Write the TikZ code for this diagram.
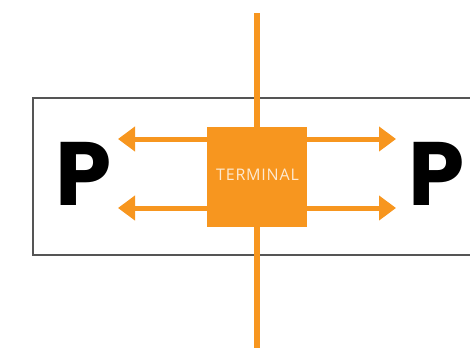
\documentclass[tikz,border=0pt]{standalone}
\usepackage{fontspec}
\setmainfont{Open Sans}
\newfontfamily\pfont{Poppins}
\usetikzlibrary{arrows.meta}
\definecolor{orng}{HTML}{F7961F}
\definecolor{framegray}{HTML}{555555}
\tikzset{
  frame/.style={draw=framegray, line width=1.8pt},
  vline/.style={draw=orng, line width=5.5pt},
  termbox/.style={fill=orng, minimum width=100pt, minimum height=100pt, inner sep=0pt, text=white!80!orng, font=\fontsize{16}{18}\selectfont\addfontfeature{LetterSpace=5}},
  arr/.style={draw=orng, line width=5pt, -{Triangle[length=17pt, width=24pt]}},
  bigp/.style={font=\pfont\bfseries\fontsize{90}{90}\selectfont, inner sep=0pt, anchor=base},
}
\begin{document}
\begin{tikzpicture}[x=1pt,y=-1pt]
\useasboundingbox (0,0) rectangle (470,351);
\clip (0,0) rectangle (470,351);
\draw[frame] (33,98) rectangle (485,255);
\coordinate (top) at (257,13);
\coordinate (bot) at (257,348);
\draw[vline] (top) -- (bot);
\node[termbox] (term) at (257,177) {};
\node[text=white!80!orng, font=\fontsize{16}{18}\selectfont\addfontfeature{LetterSpace=5}, inner sep=0pt] (tl) at (257.5,175) {TERMINAL};
\coordinate (lu) at (118,139);
\coordinate (ld) at (118,208);
\coordinate (ru) at (396,139);
\coordinate (rd) at (396,208);
\draw[arr] (term.west |- lu) -- (lu);
\draw[arr] (term.west |- ld) -- (ld);
\draw[arr] (term.east |- ru) -- (ru);
\draw[arr] (term.east |- rd) -- (rd);
\node[bigp] (pl) at (84,205) {P};
\node[bigp] (pr) at (437,205) {P};
\end{tikzpicture}
\end{document}
